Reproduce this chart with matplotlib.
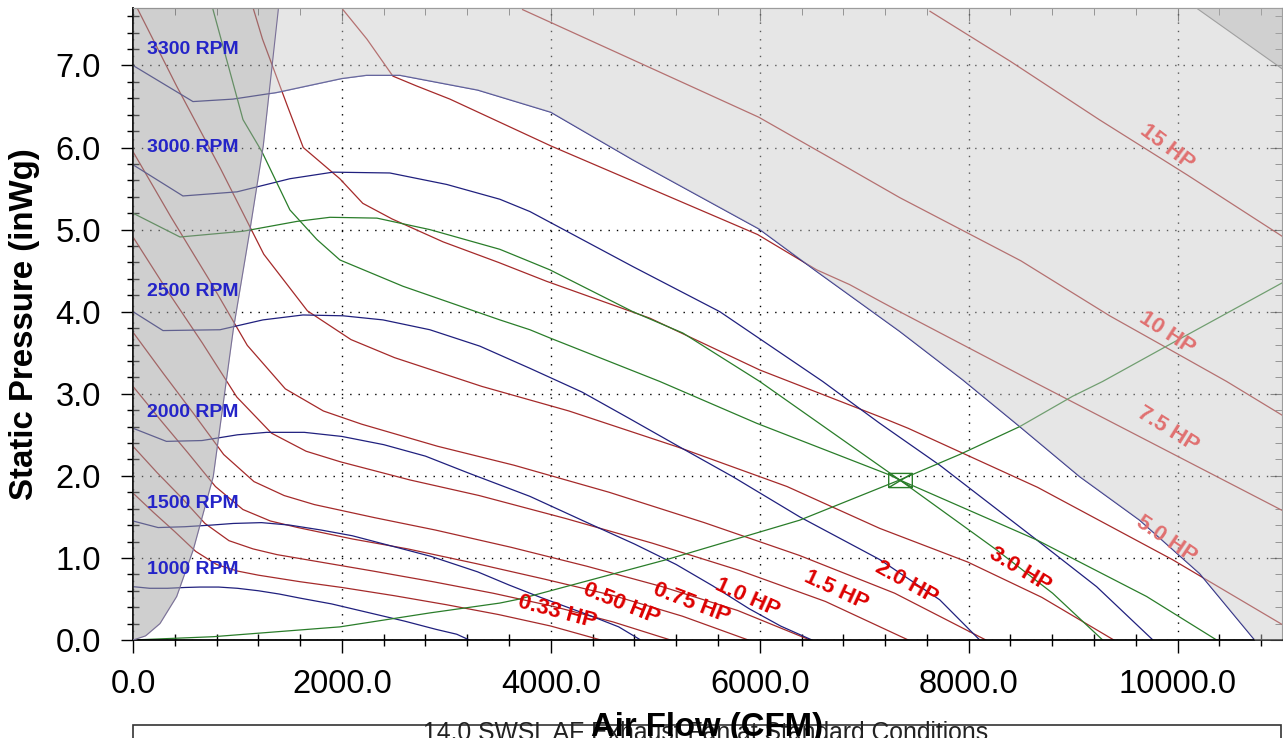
import matplotlib
matplotlib.use("Agg")
import matplotlib.pyplot as plt
import numpy as np
from matplotlib.ticker import MultipleLocator, FormatStrFormatter
from matplotlib.patches import Rectangle
from matplotlib.path import Path

plt.rcParams['font.family'] = ['Liberation Sans', 'DejaVu Sans']

# ---- fan curves at fixed speed (CFM, inWg) ----
rpm_labels = ['1000 RPM', '1500 RPM', '2000 RPM', '2500 RPM', '3000 RPM', '3300 RPM']
rpm_label_sp = [0.86, 1.66, 2.77, 4.24, 6.0, 7.20]

rpm1000_cfm = [0, 160, 330, 500, 640, 820, 1000, 1200, 1400, 1600, 1900, 2200, 2400, 2600, 2900, 3100, 3220]
rpm1000_sp = [0.65, 0.63, 0.63, 0.64, 0.645, 0.645, 0.63, 0.60, 0.56, 0.51, 0.44, 0.35, 0.29, 0.23, 0.13, 0.07, 0.0]
rpm1500_cfm = [0, 240, 495, 750, 960, 1230, 1500, 1800, 2100, 2400, 2850, 3300, 3600, 3900, 4350, 4650, 4860]
rpm1500_sp = [1.45, 1.37, 1.38, 1.40, 1.42, 1.43, 1.40, 1.34, 1.27, 1.17, 1.02, 0.83, 0.67, 0.52, 0.31, 0.16, 0.0]
rpm2000_cfm = [0, 320, 660, 1000, 1280, 1640, 2000, 2400, 2800, 3200, 3800, 4400, 4800, 5200, 5550, 5900, 6200, 6500]
rpm2000_sp = [2.58, 2.42, 2.43, 2.50, 2.53, 2.53, 2.48, 2.38, 2.24, 2.04, 1.75, 1.40, 1.17, 0.92, 0.66, 0.38, 0.17, 0.0]
rpm2500_cfm = [0, 287, 833, 1244, 1627, 2010, 2393, 2842, 3321, 3800, 4300, 4750, 5250, 5742, 6383, 7149, 7723, 8106]
rpm2500_sp = [4.00, 3.77, 3.78, 3.90, 3.96, 3.95, 3.90, 3.78, 3.58, 3.31, 3.02, 2.70, 2.34, 1.99, 1.50, 0.98, 0.49, 0.0]
rpm3000_cfm = [0, 478, 995, 1502, 1914, 2459, 3004, 3512, 3800, 4785, 5618, 6603, 7149, 7723, 8651, 9225, 9764]
rpm3000_sp = [5.79, 5.41, 5.46, 5.62, 5.70, 5.69, 5.55, 5.37, 5.22, 4.55, 4.00, 3.15, 2.64, 2.13, 1.22, 0.65, 0.0]
rpm3300_cfm = [0, 574, 957, 1375, 1997, 2236, 2555, 3300, 4000, 4785, 5990, 6545, 7340, 7943, 8489, 9063, 9637, 10211, 10738]
rpm3300_sp = [7.00, 6.56, 6.59, 6.67, 6.84, 6.88, 6.88, 6.70, 6.43, 5.85, 5.01, 4.49, 3.76, 3.17, 2.60, 1.99, 1.46, 0.81, 0.0]

# ---- brake horsepower lines ----
hp_labels = ['0.33 HP', '0.50 HP', '0.75 HP', '1.0 HP', '1.5 HP', '2.0 HP', '3.0 HP', '5.0 HP', '7.5 HP', '10 HP', '15 HP']
hp_label_cfm = [4058, 4680, 5350, 5886, 6728, 7407, 8489, 9895, 9905, 9895, 9895]
hp_label_sp = [0.34, 0.44, 0.45, 0.51, 0.60, 0.70, 0.85, 1.22, 2.57, 3.74, 6.00]
hp_label_rot = [-15, -22, -21, -24, -25, -29, -31, -34, -32, -33, -37]

hp033_cfm = [0, 200, 400, 600, 800, 1000, 1200, 1600, 2000, 2500, 3000, 3500, 4000, 4479]
hp033_sp = [1.79, 1.55, 1.32, 1.08, 0.92, 0.84, 0.79, 0.71, 0.64, 0.54, 0.43, 0.31, 0.17, 0.0]
hp050_cfm = [0, 230, 460, 689, 919, 1149, 1379, 1838, 2298, 2873, 3447, 4022, 4596, 5146]
hp050_sp = [2.36, 2.04, 1.74, 1.42, 1.21, 1.11, 1.04, 0.94, 0.84, 0.71, 0.57, 0.41, 0.22, 0.0]
hp075_cfm = [0, 263, 526, 789, 1052, 1315, 1578, 2104, 2630, 3288, 3945, 4603, 5260, 5890]
hp075_sp = [3.09, 2.68, 2.28, 1.87, 1.59, 1.45, 1.37, 1.23, 1.11, 0.93, 0.74, 0.54, 0.29, 0.0]
hp100_cfm = [0, 289, 579, 868, 1158, 1447, 1736, 2315, 2894, 3618, 4341, 5065, 5788, 6481]
hp100_sp = [3.75, 3.25, 2.76, 2.26, 1.93, 1.76, 1.65, 1.49, 1.34, 1.13, 0.90, 0.65, 0.36, 0.0]
hp150_cfm = [0, 331, 663, 994, 1326, 1657, 1988, 2651, 3314, 4143, 4971, 5800, 6628, 7422]
hp150_sp = [4.91, 4.25, 3.62, 2.96, 2.52, 2.30, 2.17, 1.95, 1.76, 1.48, 1.18, 0.85, 0.47, 0.0]
hp200_cfm = [0, 365, 729, 1094, 1458, 1823, 2188, 2917, 3646, 4558, 5469, 6381, 7292, 8165]
hp200_sp = [5.95, 5.15, 4.39, 3.59, 3.06, 2.79, 2.63, 2.36, 2.13, 1.80, 1.43, 1.03, 0.57, 0.0]
hp300_cfm = [0, 417, 835, 1252, 1670, 2087, 2504, 3339, 4174, 5218, 6261, 7149, 7991, 8700, 9390]
hp300_sp = [7.80, 6.75, 5.75, 4.70, 4.01, 3.66, 3.44, 3.09, 2.79, 2.35, 1.87, 1.36, 0.95, 0.52, 0.0]
hp500_cfm = [1150, 1240, 1480, 1630, 1980, 2200, 2480, 2970, 3500, 3960, 4950, 6000, 7150, 7420, 8660, 9950, 11000]
hp500_sp = [7.70, 7.32, 6.50, 6.00, 5.62, 5.32, 5.13, 4.85, 4.60, 4.37, 3.92, 3.29, 2.72, 2.58, 1.86, 0.98, 0.19]
hp750_cfm = [2010, 2240, 2488, 2715, 3034, 4000, 5980, 6545, 6861, 7149, 7340, 8600, 11000]
hp750_sp = [7.68, 7.32, 6.87, 6.75, 6.59, 6.02, 4.94, 4.51, 4.33, 4.13, 4.00, 3.16, 1.58]
hp1000_cfm = [3730, 4990, 5990, 6860, 7340, 8500, 9350, 10470, 11000]
hp1000_sp = [7.68, 6.95, 6.37, 5.74, 5.39, 4.62, 3.95, 3.15, 2.74]
hp1500_cfm = [7630, 8400, 9250, 10100, 11000]
hp1500_sp = [7.66, 7.05, 6.34, 5.66, 4.92]

# ---- selected fan: operating speed curve, its hp line, system curve ----
op_fan_cfm = [0, 450, 1053, 1569, 1885, 2335, 2842, 3512, 3800, 3991, 4785, 5264, 6000, 7340, 8265, 8804, 9283]
op_fan_sp = [5.20, 4.91, 4.98, 5.10, 5.15, 5.14, 5.00, 4.76, 4.61, 4.51, 4.00, 3.74, 3.15, 1.95, 1.10, 0.57, 0.0]
op_hp_cfm = [766, 1053, 1234, 1502, 1760, 1981, 2584, 3512, 3800, 3991, 5043, 5972, 7245, 7340, 8651, 9704, 10374]
op_hp_sp = [7.68, 6.34, 5.95, 5.24, 4.88, 4.63, 4.31, 3.90, 3.78, 3.68, 3.15, 2.64, 2.01, 1.95, 1.22, 0.53, 0.0]
system_cfm = [0, 383, 766, 1981, 2842, 3512, 3704, 5110, 6383, 7340, 7914, 8489, 8996, 9283, 9895, 11000]
system_sp = [0, 0.02, 0.04, 0.16, 0.33, 0.45, 0.50, 0.98, 1.46, 1.95, 2.26, 2.60, 2.97, 3.15, 3.58, 4.35]
op_cfm = 7340
op_sp = 1.95

# ---- region boundaries ----
stall_cfm = [0, 120, 258, 418, 577, 768, 960, 1120, 1247, 1391]
stall_sp = [0, 0.05, 0.20, 0.53, 1.10, 1.99, 3.78, 5.00, 6.02, 7.68]
limit_cfm = [10180, 11000]
limit_sp = [7.70, 6.96]

XMAX = 11000
YMAX = 7.7

blue = '#20207e'
red = '#a52a2a'
green = '#2a7d2a'

fig = plt.figure(figsize=(12.83, 7.38), dpi=100)
ax = fig.add_axes([133 / 1283, 98 / 738, (1282 - 133) / 1283, 632 / 738])
ax.set_xlim(0, XMAX)
ax.set_ylim(0, YMAX)

ax.grid(True, which='major', color='black', linestyle=(0, (1, 5)), linewidth=1.0)
ax.set_axisbelow(True)

rpm_curves = [(rpm1000_cfm, rpm1000_sp), (rpm1500_cfm, rpm1500_sp), (rpm2000_cfm, rpm2000_sp),
              (rpm2500_cfm, rpm2500_sp), (rpm3000_cfm, rpm3000_sp), (rpm3300_cfm, rpm3300_sp)]
hp_curves = [(hp033_cfm, hp033_sp), (hp050_cfm, hp050_sp), (hp075_cfm, hp075_sp), (hp100_cfm, hp100_sp),
             (hp150_cfm, hp150_sp), (hp200_cfm, hp200_sp), (hp300_cfm, hp300_sp), (hp500_cfm, hp500_sp),
             (hp750_cfm, hp750_sp), (hp1000_cfm, hp1000_sp), (hp1500_cfm, hp1500_sp)]

for cx, cy in hp_curves:
    ax.plot(cx, cy, color=red, lw=0.9, zorder=2)
for cx, cy in rpm_curves:
    ax.plot(cx, cy, color=blue, lw=0.9, zorder=2.1)
ax.plot(op_fan_cfm, op_fan_sp, color=green, lw=0.9, zorder=2.2)
ax.plot(op_hp_cfm, op_hp_sp, color=green, lw=0.9, zorder=2.2)
ax.plot(system_cfm, system_sp, color=green, lw=0.9, zorder=2.2)

# operating point: box with crossed diagonals
box = Path([(-1, -0.6), (1, -0.6), (1, 0.6), (-1, 0.6), (-1, -0.6), (-1, -0.6), (1, 0.6), (-1, 0.6), (1, -0.6)],
           [Path.MOVETO, Path.LINETO, Path.LINETO, Path.LINETO, Path.LINETO,
            Path.MOVETO, Path.LINETO, Path.MOVETO, Path.LINETO])
ax.plot([op_cfm], [op_sp], marker=box, markersize=17, markerfacecolor='none',
        markeredgecolor=green, markeredgewidth=1.0, zorder=2.5)

# shaded regions: stall zone on the left, beyond max speed above the 3300 rpm curve
yy = np.linspace(0, YMAX, 400)
ax.fill_betweenx(yy, 0, np.interp(yy, stall_sp, stall_cfm), color='#a0a0a0', alpha=0.5, lw=0, zorder=3)
ax.plot(stall_cfm, stall_sp, color='#7a7098', lw=0.8, zorder=3.1)

xx = np.linspace(0, XMAX, 3000)
top_curve = np.interp(xx, rpm3300_cfm, rpm3300_sp, right=0)
stall_edge = np.interp(xx, stall_cfm, stall_sp, right=np.inf)
upper = np.minimum(stall_edge, YMAX)
ax.fill_between(xx, top_curve, upper, where=stall_edge >= top_curve, color='#c8c8c8', alpha=0.45, lw=0, zorder=3)
ax.fill_between(limit_cfm, limit_sp, YMAX, color='#b0b0b0', alpha=0.4, lw=0, zorder=3.05)
ax.plot(limit_cfm, limit_sp, color='#a0a0a0', lw=0.8, zorder=3.1)

for i, t in enumerate(hp_labels):
    c = '#dd0000' if i < 7 else '#e07070'
    ax.text(hp_label_cfm[i], hp_label_sp[i], t, color=c, fontsize=16, fontweight='bold',
            rotation=hp_label_rot[i], rotation_mode='anchor', ha='center', va='center', zorder=4)

for t, y in zip(rpm_labels, rpm_label_sp):
    ax.text(131, y, t, color='#2424c8', fontsize=14, fontweight='bold', ha='left', va='center', zorder=5)

# axes, ticks
ax.xaxis.set_major_locator(MultipleLocator(2000))
ax.xaxis.set_minor_locator(MultipleLocator(400))
ax.yaxis.set_major_locator(MultipleLocator(1.0))
ax.yaxis.set_minor_locator(MultipleLocator(0.2))
ax.xaxis.set_major_formatter(FormatStrFormatter('%.1f'))
ax.yaxis.set_major_formatter(FormatStrFormatter('%.1f'))
ax.tick_params(which='major', direction='out', length=9, width=1.0, labelsize=23.5)
ax.tick_params(axis='x', which='major', pad=12)
ax.tick_params(axis='y', which='major', pad=14)
ax.tick_params(which='minor', direction='inout', length=8, width=1.0)
for s in ['bottom', 'left']:
    ax.spines[s].set_linewidth(1.3)
for s in ['top', 'right']:
    ax.spines[s].set_color('#909090')

secx = ax.secondary_xaxis('top')
secx.xaxis.set_major_locator(MultipleLocator(2000))
secx.xaxis.set_minor_locator(MultipleLocator(400))
secx.tick_params(which='major', direction='in', length=9, labeltop=False, color='#555555')
secx.tick_params(which='minor', direction='in', length=5, color='#555555')
secx.spines['top'].set_color('#909090')
secy = ax.secondary_yaxis('right')
secy.yaxis.set_major_locator(MultipleLocator(1.0))
secy.yaxis.set_minor_locator(MultipleLocator(0.2))
secy.tick_params(which='major', direction='in', length=9, labelright=False, color='#555555')
secy.tick_params(which='minor', direction='in', length=5, color='#555555')
secy.spines['right'].set_color('#c0c0c0')

ax.set_xlabel('Air Flow (CFM)', fontsize=23.7, fontweight='bold')
ax.xaxis.set_label_coords(0.5, -0.114)
ax.set_ylabel('Static Pressure (inWg)', fontsize=23.8, fontweight='bold')
ax.yaxis.set_label_coords(-0.081, 0.5)

# caption box under the chart
fig.add_artist(Rectangle((133 / 1283, -0.1), (1281 - 133) / 1283, 0.1 + 13 / 738, transform=fig.transFigure,
                         facecolor='white', edgecolor='#333333', lw=1.2, zorder=-1))
fig.text(706 / 1283, -2 / 738, '14.0 SWSL AF Exhaust Fan at Standard Conditions', ha='center',
         va='baseline', fontsize=17.8, color='#222222', zorder=-0.5)

fig.savefig('out.png', dpi=100)
